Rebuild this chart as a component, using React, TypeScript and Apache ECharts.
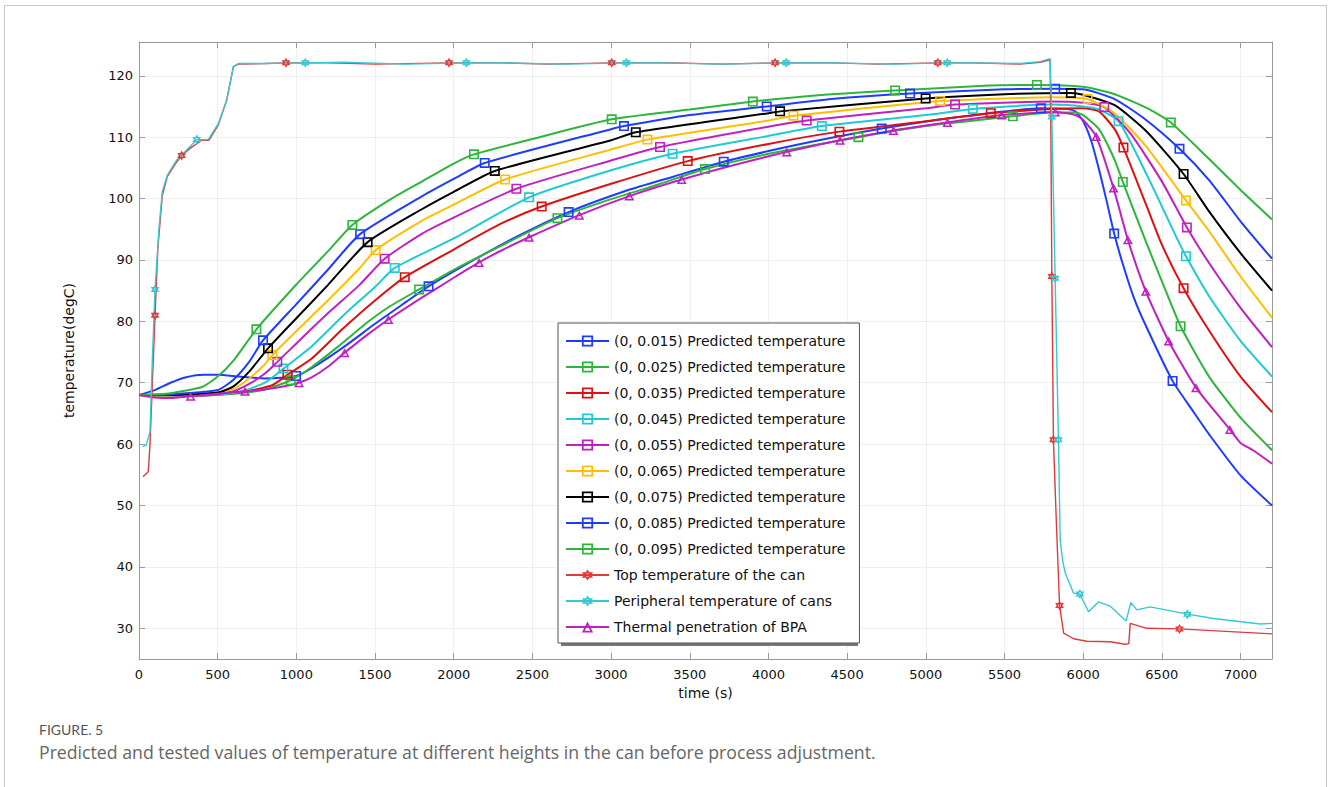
import React, { useEffect, useRef } from "react";
import * as echarts from "echarts";

type P = [number, number];

const seriesNames = [
  "(0, 0.015) Predicted temperature",
  "(0, 0.025) Predicted temperature",
  "(0, 0.035) Predicted temperature",
  "(0, 0.045) Predicted temperature",
  "(0, 0.055) Predicted temperature",
  "(0, 0.065) Predicted temperature",
  "(0, 0.075) Predicted temperature",
  "(0, 0.085) Predicted temperature",
  "(0, 0.095) Predicted temperature",
  "Top temperature of the can",
  "Peripheral temperature of cans",
  "Thermal penetration of BPA",
];

const seriesColors = [
  "#1e3cff", "#2db53c", "#dd1111", "#1ecbd2", "#c020c0", "#ffbf00",
  "#000000", "#1e3cff", "#2db53c", "#e03a3a", "#35c9d1", "#c020c0",
];

// ---- (0, 0.015) ----
const p015Line: P[] = [[0,68.0],[100,68.8],[200,70.0],[300,70.9],[412,71.3],[500,71.3],[636,71.0],[800,70.7],[900,70.8],[1100,72.4],[1300,75.8],[1500,79.6],[1700,83.2],[2100,89.6],[2400,93.8],[3100,101.3],[3400,103.6],[4100,108.3],[4400,109.9],[5100,112.9],[5400,113.9],[5900,114.6],[5950,114.2],[6000,112.6],[6050,109.5],[6100,104.8],[6150,99.5],[6250,89.5],[6320,84.0],[6400,79.2],[6700,65.3],[6800,61.6],[7000,54.9],[7200,50.0]];
const p015Marks: P[] = [[998,71.1],[1840,85.7],[2730,97.8],[3716,106.0],[4720,111.4],[5731,114.7],[6197,94.3],[6568,70.3]];

// ---- (0, 0.025) ----
const p025Line: P[] = [[0,68.0],[200,67.8],[400,67.9],[600,68.2],[800,68.9],[1100,72.6],[1271,76.0],[1450,79.8],[1585,82.3],[2000,88.4],[2300,92.3],[3000,99.9],[3300,102.3],[4000,107.3],[5000,111.8],[5800,114.0],[5950,114.0],[6000,113.6],[6100,111.3],[6200,106.3],[6400,92.9],[6510,85.9],[6800,71.0],[7000,64.3],[7200,59.0]];
const p025Marks: P[] = [[964,70.4],[1780,85.2],[2659,96.8],[3597,104.8],[4572,110.0],[5553,113.4],[6252,102.7],[6619,79.2]];

// ---- (0, 0.035) ----
const p035Line: P[] = [[0,68.0],[200,67.8],[400,67.9],[636,68.4],[847,69.6],[1100,74.0],[1300,78.9],[1500,83.4],[2000,91.7],[2300,95.9],[3000,102.4],[4000,108.9],[5000,112.6],[5800,114.6],[6000,114.7],[6100,114.2],[6200,111.3],[6400,99.0],[6500,92.5],[6800,78.5],[7000,71.0],[7200,65.2]];
const p035Marks: P[] = [[943,71.3],[1689,87.2],[2559,98.7],[3487,106.1],[4451,110.9],[5413,113.9],[6256,108.3],[6638,85.4]];

// ---- (0, 0.045) ----
const p045Line: P[] = [[0,68.0],[200,67.8],[400,67.9],[636,68.5],[800,70.0],[1100,76.0],[1300,81.0],[1500,85.6],[2000,93.5],[3000,104.6],[4000,110.2],[5000,113.6],[5800,115.3],[6000,115.0],[6100,114.5],[6400,104.1],[6600,93.3],[6800,84.1],[7000,76.8],[7200,71.0]];
const p045Marks: P[] = [[918,72.3],[1625,88.7],[2479,100.2],[3391,107.3],[4339,111.8],[5299,114.6],[6225,112.6],[6653,90.6]];

// ---- (0, 0.055) ----
const p055Line: P[] = [[0,68.0],[200,67.9],[450,68.0],[600,68.6],[700,69.8],[800,71.5],[1000,76.4],[1200,81.3],[1400,85.9],[1800,94.3],[2000,96.9],[3000,106.2],[4000,111.7],[5000,114.7],[5800,115.8],[6000,115.6],[6300,110.6],[6500,102.8],[6800,89.5],[7000,82.2],[7200,75.8]];
const p055Marks: P[] = [[879,73.4],[1561,90.2],[2398,101.6],[3311,108.4],[4243,112.7],[5186,115.3],[6134,114.9],[6659,95.3]];

// ---- (0, 0.065) ----
const p065Line: P[] = [[0,68.0],[200,67.9],[400,68.0],[600,69.0],[700,70.7],[800,73.0],[1000,78.4],[1200,83.4],[1400,88.6],[1800,96.4],[2000,99.0],[3000,108.0],[4000,112.7],[5000,115.7],[5800,116.5],[6200,113.9],[6400,108.5],[6800,94.7],[7000,87.3],[7200,80.6]];
const p065Marks: P[] = [[847,74.5],[1504,91.6],[2326,103.1],[3231,109.6],[4159,113.5],[5091,115.9],[6028,116.2],[6653,99.7]];

// ---- (0, 0.075) ----
const p075Line: P[] = [[0,68.0],[200,68.0],[500,68.4],[600,69.4],[700,71.8],[1000,80.5],[1200,85.9],[1800,98.3],[2000,101.1],[3000,109.5],[4000,113.9],[5500,117.0],[6000,116.9],[6200,115.2],[6400,111.0],[6800,97.9],[7000,91.1],[7200,85.0]];
const p075Marks: P[] = [[820,75.6],[1453,92.9],[2261,104.5],[3157,110.8],[4074,114.2],[4999,116.3],[5922,117.2],[6638,104.0]];

// ---- (0, 0.085) ----
const p085Line: P[] = [[0,68.0],[200,68.1],[500,68.8],[600,70.5],[700,73.4],[1000,82.8],[1200,88.4],[1800,100.4],[2000,103.2],[3000,111.3],[3500,113.6],[4400,116.2],[5500,117.8],[6000,117.8],[6200,116.2],[6400,112.8],[6800,103.0],[7000,96.3],[7200,90.2]];
const p085Marks: P[] = [[788,76.9],[1405,94.2],[2197,105.8],[3082,111.8],[3989,115.0],[4900,117.1],[5822,117.9],[6612,108.1]];

// ---- (0, 0.095) ----
const p095Line: P[] = [[0,68.0],[200,68.3],[400,69.3],[500,71.0],[600,73.6],[1000,86.0],[1200,91.4],[1600,99.9],[1800,102.8],[2000,105.7],[2500,109.7],[3500,114.5],[4300,116.8],[5400,118.4],[6000,118.2],[6200,117.0],[6400,114.8],[6786,106.8],[7000,101.4],[7200,96.6]];
const p095Marks: P[] = [[746,78.7],[1356,95.7],[2129,107.2],[3004,112.9],[3901,115.8],[4805,117.6],[5706,118.5],[6557,112.4]];

// ---- Top temperature of the can (measured) ----
const topLine: P[] = [[25,54.7],[59,55.5],[70,60.0],[85,70.0],[120,92.0],[148,100.5],[180,103.6],[240,106.0],[330,108.3],[400,109.5],[445,109.5],[504,112.0],[557,116.0],[600,121.5],[631,121.9],[800,122.0],[1200,122.1],[1500,121.9],[2300,122.1],[2600,121.9],[3400,122.1],[3700,121.9],[4400,122.1],[4700,121.9],[5300,122.1],[5600,121.9],[5727,122.2],[5790,122.6],[5795,110.0],[5830,47.0],[5876,29.2],[5939,28.3],[6023,27.9],[6172,27.8],[6267,27.4],[6290,27.5],[6299,30.8],[6405,30.0],[7200,29.1]];
const topMarks: P[] = [[102,81.0],[271,107.0],[934,122.1],[1970,122.1],[3004,122.1],[4042,122.1],[5076,122.1],[5801,87.3],[5811,60.7],[5850,33.7],[6612,29.9]];

// ---- Peripheral temperature of cans (measured) ----
const periLine: P[] = [[22,59.6],[45,59.8],[70,62.0],[85,74.0],[127,95.1],[148,101.1],[180,103.8],[240,106.3],[303,107.9],[440,109.6],[504,112.2],[557,116.0],[600,121.5],[631,122.0],[800,122.0],[1300,122.2],[1700,121.9],[2300,122.1],[2700,121.9],[3300,122.1],[3700,121.9],[4400,122.1],[4800,121.9],[5300,122.1],[5600,122.0],[5727,122.3],[5790,122.8],[5854,44.4],[5870,41.0],[5886,39.0],[5939,35.7],[6034,32.7],[6097,34.3],[6172,33.6],[6273,31.2],[6303,34.2],[6341,33.0],[6426,33.5],[6829,31.6],[7125,30.7],[7200,30.8]];
const periMarks: P[] = [[102,85.2],[367,109.6],[1057,122.1],[2080,122.1],[3097,122.1],[4112,122.1],[5136,122.1],[5801,113.3],[5822,87.0],[5843,60.7],[5979,35.6],[6662,32.3]];

// ---- Thermal penetration of BPA ----
const bpaLine: P[] = [[0,68.0],[100,67.6],[200,67.5],[500,68.2],[800,68.9],[900,69.3],[1100,70.9],[1200,72.6],[1450,77.8],[1800,83.9],[2000,87.1],[2300,91.5],[3800,105.6],[5950,113.6],[6000,112.8],[7000,60.2],[7080,59.0],[7200,56.8]];
const bpaMarks: P[] = [[328,67.8],[674,68.6],[1017,70.0],[1307,74.9],[1585,80.3],[2161,89.6],[2479,93.7],[2798,97.3],[3116,100.4],[3449,103.1],[4116,107.6],[4455,109.5],[4794,111.1],[5137,112.4],[5483,113.6],[5822,114.1],[6083,110.1],[6193,101.7],[6284,93.3],[6398,84.9],[6543,76.8],[6717,69.2],[6932,62.4]];

const xTicks = { min: 0, max: 7200, step: 500 };
const yRange = { min: 25, max: 125.5 };

const SQUARE = "path://M0,0L10,0L10,10L0,10Z M1.6,1.6L1.6,8.4L8.4,8.4L8.4,1.6Z";
const TRIANGLE = "path://M5,0L10,9L0,9Z M5,3.1L2.55,7.5L7.45,7.5Z";
const STAR = "path://M5,0L9.33,7.5L0.67,7.5Z M5,2.4L2.75,6.3L7.25,6.3Z M5,10L0.67,2.5L9.33,2.5Z M5,7.6L7.25,3.7L2.75,3.7Z";

const lines: P[][] = [p015Line, p025Line, p035Line, p045Line, p055Line, p065Line, p075Line, p085Line, p095Line, topLine, periLine, bpaLine];
const marks: P[][] = [p015Marks, p025Marks, p035Marks, p045Marks, p055Marks, p065Marks, p075Marks, p085Marks, p095Marks, topMarks, periMarks, bpaMarks];

function buildData(line: P[], mk: P[]) {
  const items: any[] = [
    ...line.map((p) => ({ value: p, symbol: "none" })),
    ...mk.map((p) => ({ value: p })),
  ];
  items.sort((a, b) => a.value[0] - b.value[0]);
  return items;
}

export default function App() {
  const ref = useRef<HTMLDivElement>(null);
  useEffect(() => {
    if (!ref.current) return;
    const chart = echarts.init(ref.current, undefined, { renderer: "svg" });
    const font = "DejaVu Sans";
    const series = seriesNames.map((name, i) => {
      const measured = i === 9 || i === 10;
      const symbol = i === 11 ? TRIANGLE : measured ? STAR : SQUARE;
      return {
        name,
        type: "line",
        data: buildData(lines[i], marks[i]),
        symbol,
        symbolSize: 10,
        symbolKeepAspect: true,
        showSymbol: true,
        showAllSymbol: true,
        smooth: measured ? false : 0.2,
        color: seriesColors[i],
        itemStyle: { color: seriesColors[i] },
        lineStyle: { color: seriesColors[i], width: measured ? 1.4 : 2 },
        emphasis: { disabled: true },
        z: measured ? 3 : 2,
      };
    });
    const axisLine = { show: true, onZero: false, lineStyle: { color: "#9a9a9a", width: 1 } };
    const axisTick = { show: true, inside: true, length: 6, lineStyle: { color: "#9a9a9a", width: 1 } };
    const option: any = {
      animation: false,
      backgroundColor: "#ffffff",
      textStyle: { fontFamily: font },
      grid: { left: 139, top: 42, right: 56, bottom: 128, containLabel: false, outerBoundsMode: "none" },
      xAxis: [
        {
          type: "value", min: xTicks.min, max: xTicks.max, interval: xTicks.step, position: "bottom",
          name: "time (s)", nameLocation: "middle", nameGap: 24,
          nameTextStyle: { fontSize: 14, color: "#111", fontFamily: font },
          axisLine, axisTick,
          axisLabel: { fontSize: 13, color: "#111", margin: 9, fontFamily: font, formatter: (v: number) => String(v) },
          splitLine: { show: true, lineStyle: { color: "#efefef", width: 1 } },
        },
        {
          type: "value", min: xTicks.min, max: xTicks.max, interval: xTicks.step, position: "top",
          axisLine, axisTick, axisLabel: { show: false }, splitLine: { show: false },
        },
      ],
      yAxis: [
        {
          type: "value", min: yRange.min, max: yRange.max, splitNumber: 10, position: "left",
          name: "temperature(degC)", nameLocation: "middle", nameGap: 63,
          nameTextStyle: { fontSize: 14, color: "#111", fontFamily: font },
          axisLine, axisTick,
          axisLabel: {
            fontSize: 13, color: "#111", margin: 6, fontFamily: font,
            showMinLabel: false, showMaxLabel: false,
            formatter: (v: number) => (v % 10 === 0 ? String(v) : ""),
          },
          splitLine: { show: true, lineStyle: { color: "#efefef", width: 1 } },
        },
        {
          type: "value", min: yRange.min, max: yRange.max, splitNumber: 10, position: "right",
          axisLine, axisTick, axisLabel: { show: false }, splitLine: { show: false },
        },
      ],
      legend: {
        orient: "vertical", left: 558, top: 323,
        itemWidth: 43, itemHeight: 14, itemGap: 12,
        padding: [11, 14, 9, 7],
        backgroundColor: "#ffffff", borderColor: "#555", borderWidth: 1, borderRadius: 0,
        textStyle: { fontSize: 14, color: "#111", fontFamily: font },
        selectedMode: false,
        data: seriesNames,
        z: 10,
      },
      graphic: [
        {
          type: "rect", silent: true, z: 9,
          shape: { x: 561, y: 326, width: 297, height: 320 },
          style: { fill: "#777", stroke: "none" },
        },
        {
          type: "rect", silent: true, z: -10,
          shape: { x: 4.5, y: 5.5, width: 1322, height: 820 },
          style: { fill: "none", stroke: "#c6c6c6", lineWidth: 1 },
        },
        {
          type: "text", silent: true, x: 39, y: 729,
          style: { text: "FIGURE. 5", font: "14px Lato", fill: "#555", verticalAlign: "middle" },
        },
        {
          type: "text", silent: true, x: 39, y: 752,
          style: {
            text: "Predicted and tested values of temperature at different heights in the can before process adjustment.",
            font: "17.7px 'Open Sans'", fill: "#666", verticalAlign: "middle",
          },
        },
      ],
      series,
    };
    chart.setOption(option);
    return () => chart.dispose();
  }, []);
  return <div ref={ref} style={{ position: "absolute", left: 0, top: 0, width: 1328, height: 787 }} />;
}
